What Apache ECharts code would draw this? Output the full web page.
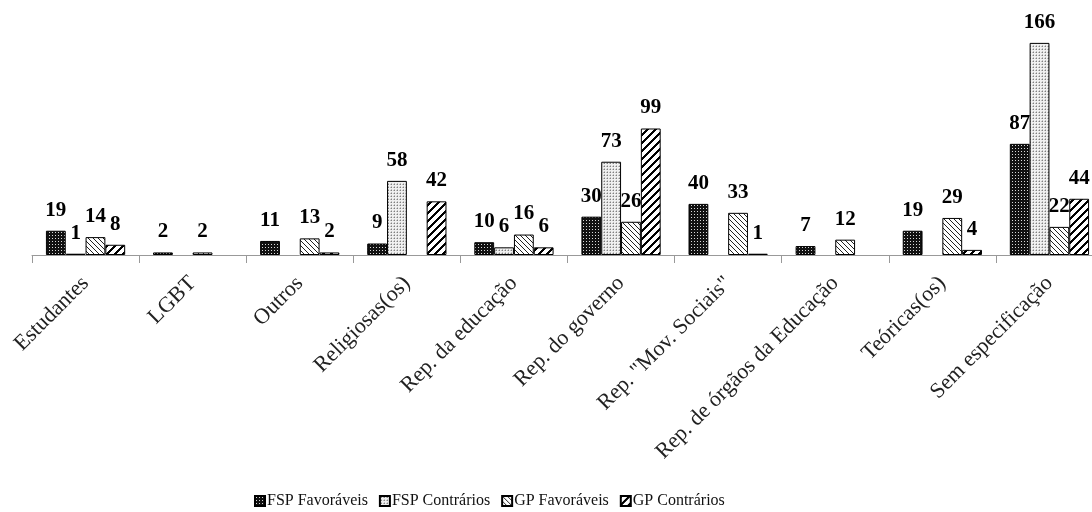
<!DOCTYPE html>
<html>
<head>
<meta charset="utf-8">
<script src="https://cdn.jsdelivr.net/npm/echarts@6/dist/echarts.min.js"></script>
<style>
  html, body { margin: 0; padding: 0; background: #fff; overflow: hidden; width: 1092px; height: 512px; }
  #chart { width: 1103px; height: 512px; }
</style>
</head>
<body>
<div id="chart"></div>
<script>
// Categories of participants and counts per group
const categories = [
  'Estudantes', 'LGBT', 'Outros', 'Religiosas(os)', 'Rep. da educação',
  'Rep. do governo', 'Rep. "Mov. Sociais"', 'Rep. de órgãos da Educação',
  'Teóricas(os)', 'Sem especificação'
];
const seriesNames = ['FSP Favoráveis', 'FSP Contrários', 'GP Favoráveis', 'GP Contrários'];
const fspFavoraveis = [19, 2, 11, 9, 10, 30, 40, 7, 19, 87];
const fspContrarios = [1, null, null, 58, 6, 73, null, null, null, 166];
const gpFavoraveis  = [14, 2, 13, null, 16, 26, 33, 12, 29, 22];
const gpContrarios  = [8, null, 2, 42, 6, 99, 1, null, 4, 44];

// Fill patterns for the four series
function makePattern(kind) {
  const c = document.createElement('canvas');
  const ctx = c.getContext('2d');
  if (kind === 'darkGrid') {
    c.width = 3; c.height = 3;
    ctx.fillStyle = '#111';
    ctx.fillRect(0, 0, 3, 3);
    ctx.fillStyle = '#d8d8d8';
    ctx.fillRect(1, 1, 1, 1);
  } else if (kind === 'lightDots') {
    c.width = 3; c.height = 3;
    ctx.fillStyle = '#f0f0f0';
    ctx.fillRect(0, 0, 3, 3);
    ctx.fillStyle = '#808080';
    ctx.fillRect(1, 1, 1, 1);
    ctx.fillStyle = '#c0c0c0';
    ctx.fillRect(0, 1, 1, 1);
    ctx.fillRect(1, 0, 1, 1);
  } else if (kind === 'thinHatch') {
    c.width = 5; c.height = 5;
    ctx.fillStyle = '#fff';
    ctx.fillRect(0, 0, 5, 5);
    ctx.fillStyle = '#222';
    for (let i = 0; i < 5; i++) ctx.fillRect(i, i, 1, 1);
  } else if (kind === 'thickHatch') {
    c.width = 8; c.height = 8;
    ctx.fillStyle = '#fff';
    ctx.fillRect(0, 0, 8, 8);
    ctx.fillStyle = '#000';
    for (let i = 0; i < 8; i++) {
      for (let w = 0; w < 3; w++) {
        ctx.fillRect((7 - i + w) % 8, i, 1, 1);
      }
    }
  }
  return { image: c, repeat: 'repeat' };
}

const fills = [
  makePattern('darkGrid'),
  makePattern('lightDots'),
  makePattern('thinHatch'),
  makePattern('thickHatch')
];
const values = [fspFavoraveis, fspContrarios, gpFavoraveis, gpContrarios];

const serif = '"Liberation Serif", "Times New Roman", serif';

const chart = echarts.init(document.getElementById('chart'), null, { renderer: 'canvas' });
chart.setOption({
  animation: false,
  backgroundColor: '#fff',
  grid: { left: 32, right: 0, top: 25, bottom: 257, containLabel: false },
  legend: {
    left: 249,
    top: 488,
    itemWidth: 10,
    itemHeight: 10,
    itemGap: 11,
    textStyle: { fontFamily: serif, fontSize: 16, color: '#111', padding: [0, 0, 0, -3] },
    data: seriesNames.map(n => ({ name: n, icon: 'rect' }))
  },
  xAxis: {
    type: 'category',
    data: categories,
    axisLine: { lineStyle: { color: '#999', width: 1 } },
    axisTick: { show: true, length: 8, lineStyle: { color: '#999' } },
    axisLabel: {
      interval: 0,
      rotate: 45,
      margin: 25,
      fontFamily: serif,
      fontSize: 22,
      color: '#222'
    }
  },
  yAxis: {
    type: 'value',
    min: 0,
    max: 180,
    show: false,
    splitLine: { show: false }
  },
  series: seriesNames.map((name, i) => ({
    name: name,
    type: 'bar',
    data: values[i],
    barGap: '0%',
    barCategoryGap: '26%',
    itemStyle: { color: fills[i], borderColor: '#000', borderWidth: 1 },
    label: {
      show: true,
      position: 'top',
      distance: 10,
      fontFamily: serif,
      fontWeight: 'bold',
      fontSize: 21,
      color: '#000'
    }
  }))
});
</script>
</body>
</html>
